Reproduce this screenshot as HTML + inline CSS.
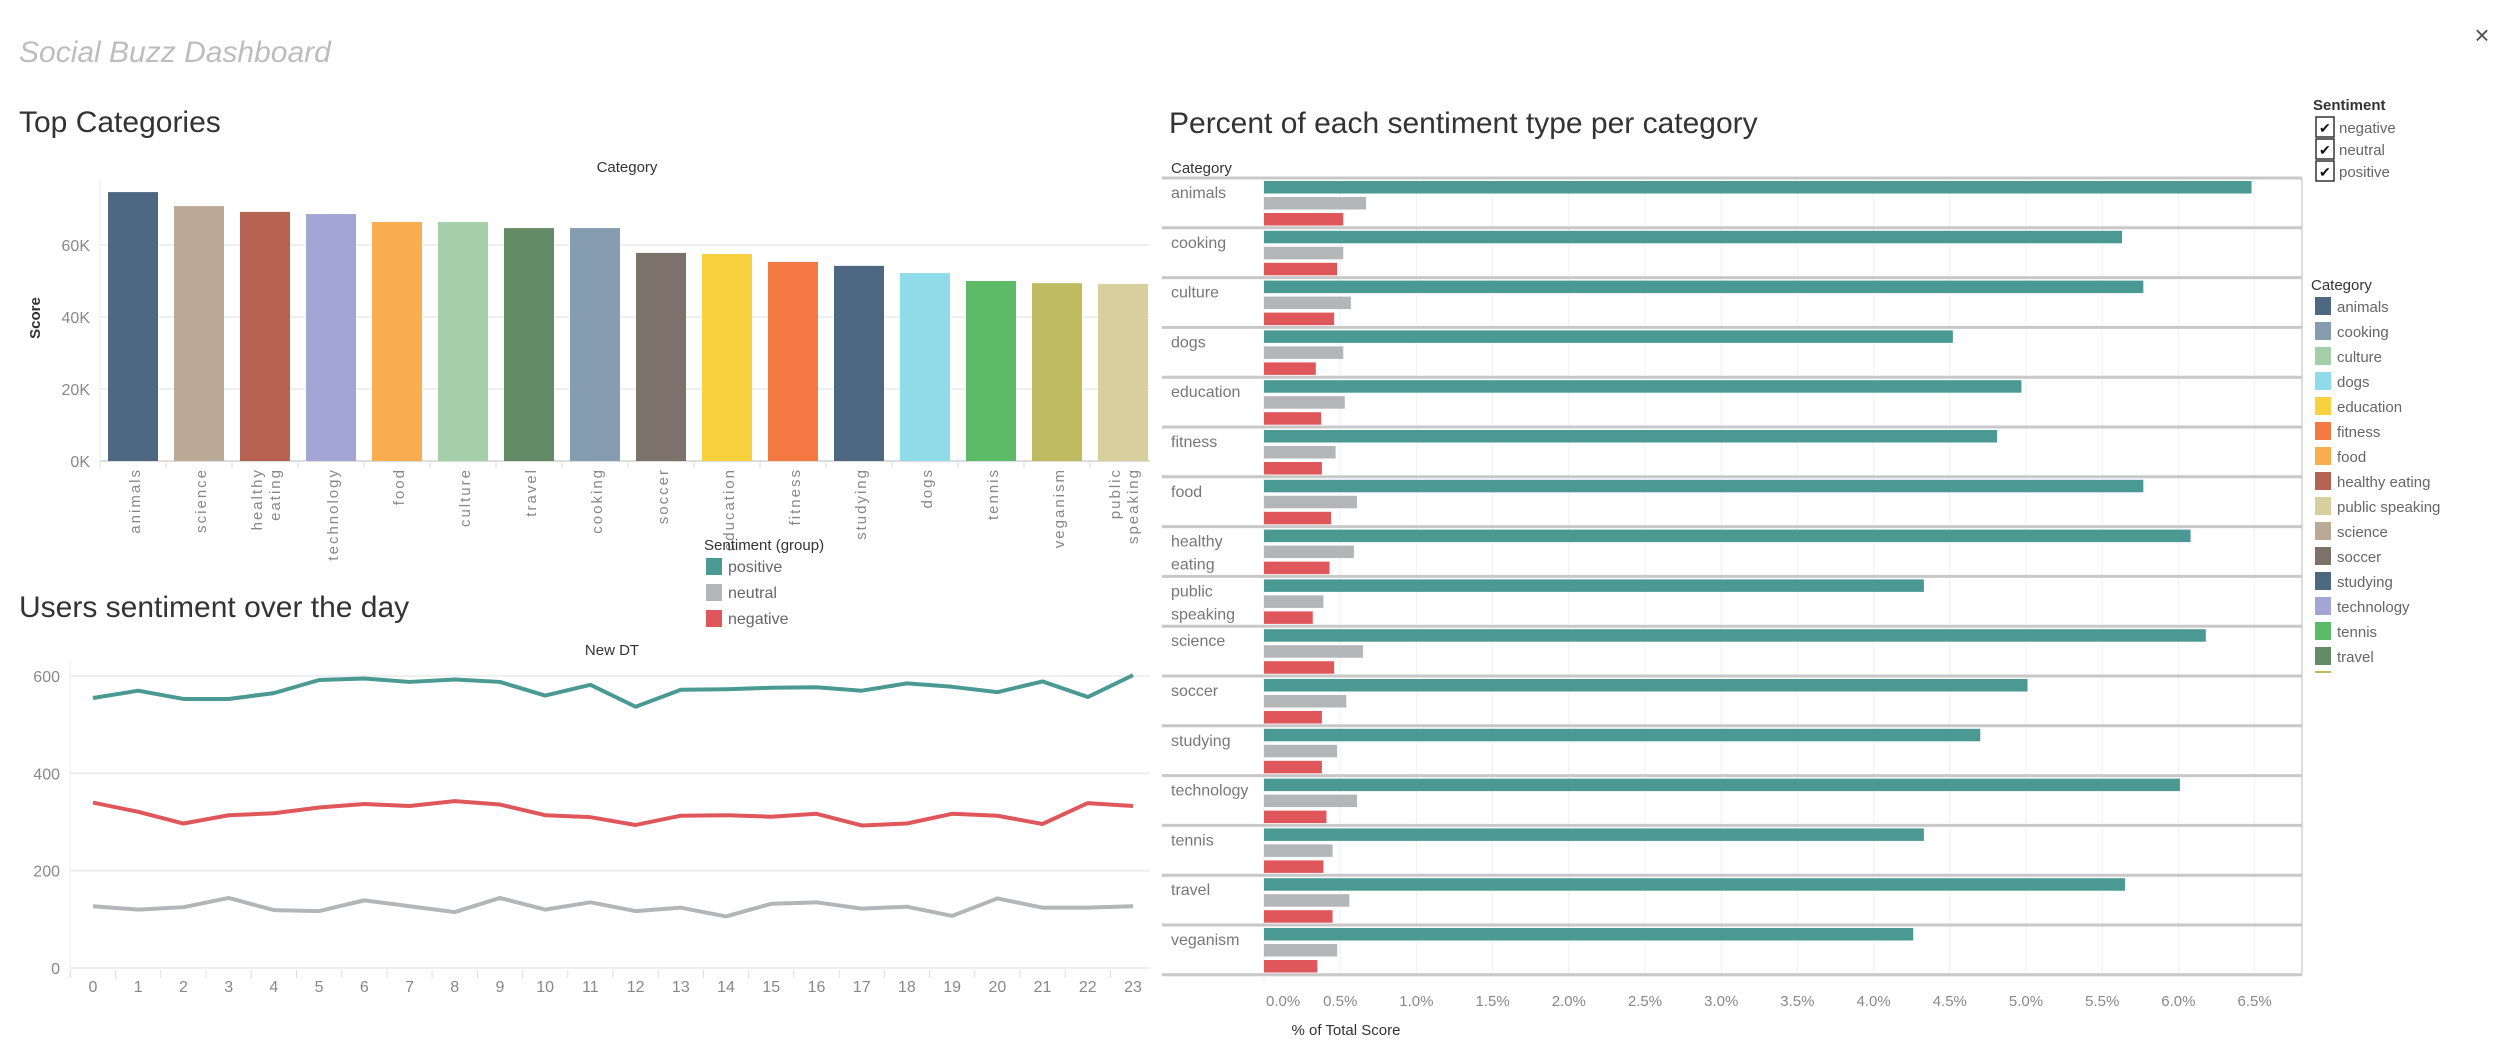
<!DOCTYPE html>
<html><head><meta charset="utf-8"><style>
html,body{margin:0;padding:0;background:#fff;}
svg{display:block;font-family:"Liberation Sans",sans-serif;}
</style></head><body>
<svg id="s" width="2508" height="1064" viewBox="0 0 2508 1064">
<text x="19" y="62" font-size="30" font-style="italic" fill="#bdbdbd">Social Buzz Dashboard</text>
<text x="2482" y="44" font-size="26" fill="#555" text-anchor="middle">×</text>
<text x="19" y="132" font-size="30" fill="#333">Top Categories</text>
<text x="1169" y="133" font-size="30" fill="#333">Percent of each sentiment type per category</text>
<text x="19" y="617" font-size="30" fill="#333">Users sentiment over the day</text>
<g id="bar"></g><g id="line"></g><g id="hbar"></g><g id="leg"></g>
</svg>
<script>
const NS='http://www.w3.org/2000/svg';
function mk(p,t,a,txt){const e=document.createElementNS(NS,t);for(const k in a)e.setAttribute(k,a[k]);if(txt!==undefined)e.textContent=txt;p.appendChild(e);return e;}

// ---- Top categories data ----
const barCats=['animals','science','healthy eating','technology','food','culture','travel','cooking','soccer','education','fitness','studying','dogs','tennis','veganism','public speaking'];
const barVals=[74700,70800,69200,68600,66400,66400,64700,64700,57800,57500,55300,54200,52200,50000,49400,49200];
const barTicks=[0,20000,40000,60000];
const barTickLabels=['0K','20K','40K','60K'];
const catColors={'animals':'#4e6882','science':'#b9a995','healthy eating':'#b66353','technology':'#a3a5d4','food':'#f8ae4e','culture':'#a4cfa8','travel':'#638b66','cooking':'#869db1','soccer':'#7c7269','education':'#f8d23e','fitness':'#f47942','studying':'#4e6882','dogs':'#8fdbe9','tennis':'#5dba66','veganism':'#bfbb60','public speaking':'#d7cf9e'};

// ---- Line chart data ----
const hours=[0,1,2,3,4,5,6,7,8,9,10,11,12,13,14,15,16,17,18,19,20,21,22,23];
const positiveVals=[555,570,553,553,565,592,595,588,593,588,560,582,537,572,573,576,577,570,585,578,567,589,557,602];
const neutralVals=[127,120,125,144,119,117,139,127,115,144,120,135,117,124,106,132,135,122,126,107,143,124,124,127];
const negativeVals=[340,321,297,314,318,330,337,333,343,336,314,310,294,313,314,311,317,293,297,317,313,296,339,333];
const lineTicks=[0,200,400,600];

// ---- Horizontal bar data ----
const hCats=['animals','cooking','culture','dogs','education','fitness','food','healthy eating','public speaking','science','soccer','studying','technology','tennis','travel','veganism'];
const hPos=[6.48,5.63,5.77,4.52,4.97,4.81,5.77,6.08,4.33,6.18,5.01,4.70,6.01,4.33,5.65,4.26];
const hNeu=[0.67,0.52,0.57,0.52,0.53,0.47,0.61,0.59,0.39,0.65,0.54,0.48,0.61,0.45,0.56,0.48];
const hNeg=[0.52,0.48,0.46,0.34,0.375,0.38,0.44,0.43,0.32,0.46,0.38,0.38,0.41,0.39,0.45,0.35];
const hTicks=[0,0.5,1,1.5,2,2.5,3,3.5,4,4.5,5,5.5,6,6.5];

const POS='#4a9a93',NEU='#b3b5b6',NEG='#e0575b';

// ===== Bar chart =====
(function(){
const g=document.getElementById('bar');
const y=v=>461-v/20000*72;
const band=66,x0=100;
mk(g,'text',{x:627,y:172,'font-size':15,fill:'#333','text-anchor':'middle',},'Category');
const yt=mk(g,'text',{x:0,y:0,'font-size':15,'font-weight':'bold',fill:'#333','text-anchor':'middle',transform:'translate(40,318) rotate(-90)',},'Score');
barTicks.forEach((t,i)=>{
 const l=mk(g,'line',{x1:x0,x2:1150,y1:y(t),y2:y(t),stroke:t?'#efefef':'#ddd','stroke-width':2});
 
 const tx=mk(g,'text',{x:90,y:y(t)+6,'font-size':16,fill:'#888','text-anchor':'end'},barTickLabels[i]);
 
});
mk(g,'line',{x1:x0,x2:x0,y1:180,y2:470,stroke:'#eee','stroke-width':1});
barCats.forEach((c,i)=>{
 const bx=x0+i*band+8;
 const r=mk(g,'rect',{x:bx,y:y(barVals[i]),width:50,height:y(0)-y(barVals[i]),fill:catColors[c]});
 
 mk(g,'line',{x1:x0+i*band,x2:x0+i*band,y1:462,y2:468,stroke:'#ddd'});
 const parts=c.split(' ');const cx=bx+25;
 parts.forEach((p,j)=>{
  const off=parts.length>1?(j===0?-8:10):2;
  const t=mk(g,'text',{x:0,y:0,'font-size':15,'letter-spacing':2,fill:'#888','text-anchor':'end',transform:`translate(${cx+off+5},468) rotate(-90)`},p);
  
 });
});
})();

// ===== Sentiment group legend =====
(function(){
const g=document.getElementById('leg');
mk(g,'text',{x:704,y:550,'font-size':15,fill:'#333',},'Sentiment (group)');
[['positive',POS],['neutral',NEU],['negative',NEG]].forEach((d,i)=>{
 const yy=558+i*26;
 const r=mk(g,'rect',{x:706,y:yy,width:16,height:17,fill:d[1]});
 
 const t=mk(g,'text',{x:728,y:yy+14,'font-size':16,fill:'#666'},d[0]);
 
});
// right legends
mk(g,'text',{x:2313,y:110,'font-size':15,'font-weight':'bold',fill:'#333',},'Sentiment');
['negative','neutral','positive'].forEach((s,i)=>{
 const yy=117+i*22;
 const r=mk(g,'rect',{x:2316,y:yy,width:18,height:20,fill:'#fff',stroke:'#333','stroke-width':1.5});
 
 mk(g,'text',{x:2319,y:yy+16,'font-size':14,fill:'#111'},'✔');
 const t=mk(g,'text',{x:2339,y:yy+16,'font-size':15,fill:'#666'},s);
 
});
mk(g,'text',{x:2311,y:290,'font-size':15,fill:'#333',},'Category');
const lc=['animals','cooking','culture','dogs','education','fitness','food','healthy eating','public speaking','science','soccer','studying','technology','tennis','travel'];
lc.forEach((c,i)=>{
 const yy=297+i*25;
 const r=mk(g,'rect',{x:2315,y:yy,width:16,height:18,fill:catColors[c]});
 
 const t=mk(g,'text',{x:2337,y:yy+15,'font-size':15,fill:'#666'},c);
 
});
mk(g,'rect',{x:2315,y:671,width:16,height:2,fill:catColors['veganism']});
})();

// ===== Line chart =====
(function(){
const g=document.getElementById('line');
const x=h=>93+h*(1133-93)/23;
const y=v=>968-v/200*97.3;
mk(g,'text',{x:612,y:655,'font-size':15,fill:'#333','text-anchor':'middle',},'New DT');
lineTicks.forEach(t=>{
 const l=mk(g,'line',{x1:70,x2:1150,y1:y(t),y2:y(t),stroke:'#eee','stroke-width':2});
 
 const tx=mk(g,'text',{x:60,y:y(t)+6,'font-size':16,fill:'#888','text-anchor':'end'},String(t));
 
});
mk(g,'line',{x1:70,x2:70,y1:660,y2:975,stroke:'#eee'});
hours.forEach(h=>{
 const t=mk(g,'text',{x:x(h),y:992,'font-size':16,fill:'#888','text-anchor':'middle'},String(h));
 
 mk(g,'line',{x1:x(h)-22.6,x2:x(h)-22.6,y1:970,y2:978,stroke:'#ddd'});
});
[[positiveVals,POS,'positive-line'],[negativeVals,NEG,'negative-line'],[neutralVals,NEU,'neutral-line']].forEach(s=>{
 const p=mk(g,'polyline',{points:hours.map((h,i)=>x(h)+','+y(s[0][i])).join(' '),fill:'none',stroke:s[1],'stroke-width':4,'stroke-linejoin':'round'});
 
});
})();

// ===== Horizontal bars =====
(function(){
const g=document.getElementById('hbar');
const x=v=>1264+v*152.4;
const rowH=49.8,top=178;
mk(g,'text',{x:1171,y:173,'font-size':15,fill:'#333',},'Category');
hTicks.forEach((t,i)=>{
 const l=mk(g,'line',{x1:x(t),x2:x(t),y1:top,y2:top+16*rowH,stroke:'#f0f0f0','stroke-width':1});
 
 const tx=mk(g,'text',{x:i===0?x(t)+2:x(t),y:1006,'font-size':15,fill:'#888','text-anchor':i===0?'start':'middle'},t.toFixed(1)+'%');
 
});
mk(g,'line',{x1:2302,x2:2302,y1:top,y2:top+16*rowH,stroke:'#ddd','stroke-width':2});
mk(g,'line',{x1:1264,x2:1264,y1:top,y2:top+16*rowH+8,stroke:'#eee'});
hCats.forEach((c,i)=>{
 const ry=top+i*rowH;
 const l=mk(g,'line',{x1:1162,x2:2302,y1:ry,y2:ry,stroke:'#c8c8c8','stroke-width':3});
 
 const parts=c.split(' ');
 parts.forEach((p,j)=>{
  const t=mk(g,'text',{x:1171,y:ry+20+j*23,'font-size':16,fill:'#777'},p);
  
 });
 [[hPos[i],POS,3,'positive'],[hNeu[i],NEU,19,'neutral'],[hNeg[i],NEG,35,'negative']].forEach(b=>{
  const r=mk(g,'rect',{x:x(0),y:ry+b[2],width:x(b[0])-x(0),height:12.5,fill:b[1]});
  
 });
});
mk(g,'line',{x1:1162,x2:2302,y1:top+16*rowH,y2:top+16*rowH,stroke:'#c8c8c8','stroke-width':3});
mk(g,'text',{x:1346,y:1035,'font-size':15,fill:'#333','text-anchor':'middle',},'% of Total Score');
})();
</script>
</body></html>
